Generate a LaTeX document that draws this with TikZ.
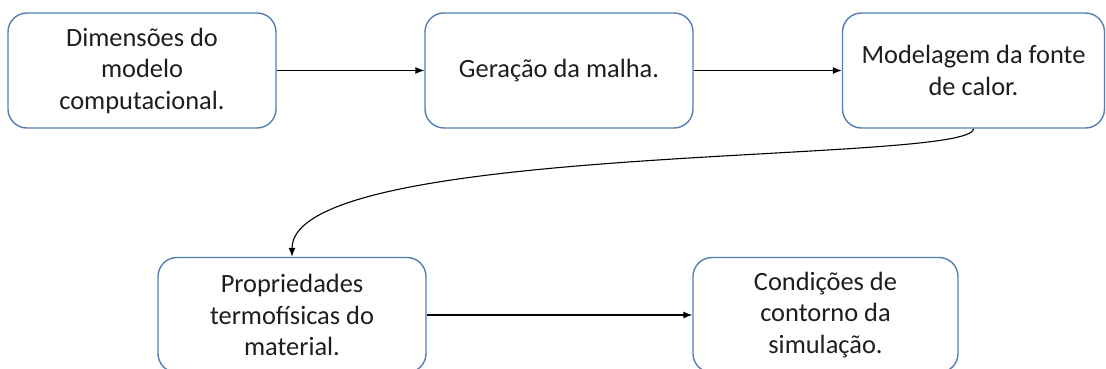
\documentclass[tikz,border=0pt]{standalone}
\usepackage{fontspec}
\setmainfont{Carlito}
\usetikzlibrary{arrows.meta,calc}
\definecolor{boxline}{RGB}{84,126,180}
\definecolor{txt}{RGB}{30,30,30}
\tikzset{
  stepbox/.style={draw=boxline, line width=1.4pt, rounded corners=19pt, fill=white,
    minimum height=115pt, align=center, text=txt,
    font=\fontsize{26.4pt}{31.5pt}\selectfont, inner sep=0pt},
  conn/.style={draw=black, line width=1.1pt, -{Latex[length=9pt,width=7pt]}}
}
\begin{document}
\begin{tikzpicture}[x=1pt,y=-1pt]
\useasboundingbox (0,0) rectangle (1106,369);
\node[stepbox, minimum width=268pt] (A) at (142,70.5) {Dimensões do\\modelo\\computacional.};
\node[stepbox, minimum width=268pt] (B) at (559,70.5) {Geração da malha.};
\node[stepbox, minimum width=262pt] (C) at (973.5,70.5) {Modelagem da fonte\\de calor.};
\node[stepbox, minimum width=268pt] (D) at (292,315) {Propriedades\\termofísicas do\\material.};
\node[stepbox, minimum width=265pt] (E) at (825.5,315) {Condições de\\contorno da\\simulação.};
\draw[conn] (A.east) -- (B.west);
\draw[conn] (B.east) -- (C.west);
\draw[conn] (C.south) .. controls ($(C.south)+(0,36)$) and ($(D.north)+(0,-116)$) .. (D.north);
\draw[conn] (D.east) -- (E.west);
\end{tikzpicture}
\end{document}
